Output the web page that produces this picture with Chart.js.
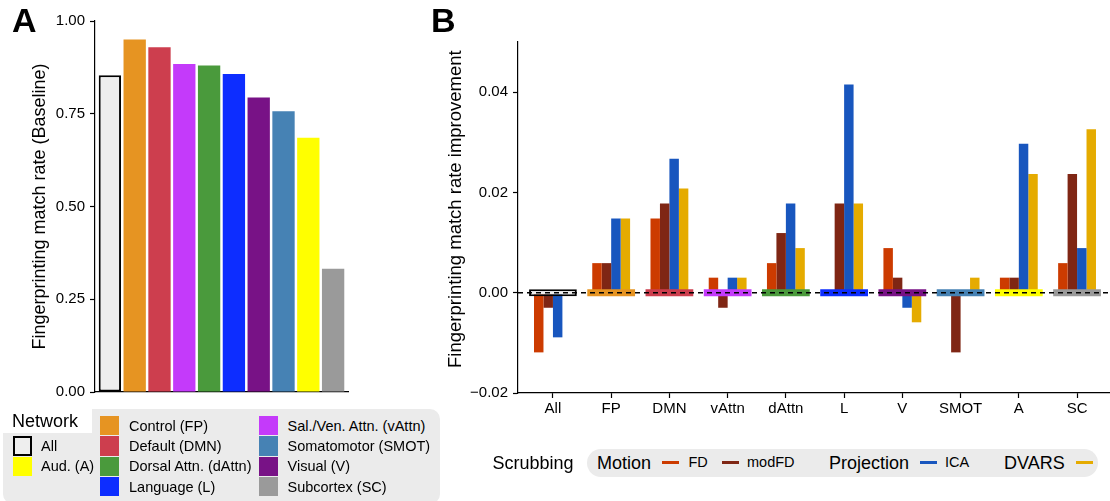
<!DOCTYPE html>
<html><head><meta charset="utf-8">
<script src="https://cdn.jsdelivr.net/npm/chart.js@4.4.1/dist/chart.umd.min.js"></script>
<style>
html,body{margin:0;padding:0;width:1110px;height:501px;overflow:hidden;background:#fff;font-family:"Liberation Sans",Arial,sans-serif;color:#000;}
.abs{position:absolute;white-space:nowrap;line-height:1;}
#wrapA{position:absolute;left:0;top:0;width:360px;height:406px;}
#wrapB{position:absolute;left:440px;top:0;width:672px;height:425px;}
.letter{position:absolute;font-weight:bold;font-size:34px;line-height:1;}
</style></head><body>
<div id="wrapA"><canvas id="cA" width="360" height="406"></canvas></div>
<div id="wrapB"><canvas id="cB" width="672" height="425"></canvas></div>
<div class="letter" style="left:12px;top:3px;">A</div>
<div class="letter" style="left:431px;top:3px;">B</div>
<div id="titleB" class="abs" style="left:0;top:0;font-size:18.5px;transform-origin:0 0;">Fingerprinting match rate improvement</div>
<div id="legA"></div>
<div id="legB"></div>
<script>
// ---------- data ----------
const networks = ['All','FP','DMN','vAttn','dAttn','L','V','SMOT','A','SC'];
const networkNames = ['All','Control (FP)','Default (DMN)','Sal./Ven. Attn. (vAttn)','Dorsal Attn. (dAttn)','Language (L)','Visual (V)','Somatomotor (SMOT)','Aud. (A)','Subcortex (SC)'];
const networkColors = ['#EEEEEE','#E69422','#CD3E4E','#C43AFA','#4A9A3C','#0D2DFF','#781286','#4682B4','#FFFF00','#9A9A9A'];
const baseline = [0.854, 0.950, 0.929, 0.884, 0.880, 0.857, 0.794, 0.757, 0.685, 0.332];
const yTicksA = [0, 0.25, 0.5, 0.75, 1.0];
const yTickLabelsA = ['0.00','0.25','0.50','0.75','1.00'];

const seriesNames = ['FD','modFD','ICA','DVARS'];
const seriesColors = ['#CC3B00','#7F2614','#1856BE','#E5AB00'];
const fd    = [-0.0119, 0.0059, 0.0148, 0.0030, 0.0059, 0,      0.0089, 0,       0.0030, 0.0059];
const modfd = [-0.0030, 0.0059, 0.0178, -0.0030, 0.0119, 0.0178, 0.0030, -0.0119, 0.0030, 0.0237];
const ica   = [-0.0089, 0.0148, 0.0267, 0.0030, 0.0178, 0.0415, -0.0030, 0,      0.0297, 0.0089];
const dvars = [0,       0.0148, 0.0208, 0.0030, 0.0089, 0.0178, -0.0059, 0.0030, 0.0237, 0.0326];
const yTicksB = [-0.02, 0, 0.02, 0.04];
const yTickLabelsB = ['\u22120.02','0.00','0.02','0.04'];
const bandHalf = 0.0007;

// ---------- common ----------
const FAM = '"Liberation Sans", Arial, sans-serif';
Chart.defaults.font.family = FAM;
Chart.defaults.color = '#000';
const idx = networks.map((_, i) => i);
const axisBorder = {display: true, color: '#000', width: 1.2};

// ---------- chart A ----------
new Chart(document.getElementById('cA'), {
  type: 'bar',
  data: {
    labels: idx,
    datasets: [{
      data: baseline,
      backgroundColor: networkColors,
      borderColor: networks.map((n, i) => i === 0 ? '#000' : 'rgba(0,0,0,0)'),
      borderWidth: networks.map((n, i) => i === 0 ? 2 : 0),
      borderSkipped: false,
      categoryPercentage: 0.9,
      barPercentage: 1
    }]
  },
  options: {
    responsive: false, animation: false, devicePixelRatio: 1,
    layout: {padding: {left: 0, top: 21, right: 12, bottom: 8}},
    plugins: {legend: {display: false}, tooltip: {enabled: false}},
    scales: {
      x: {
        type: 'linear', min: -0.6, max: 9.6, offset: false,
        grid: {display: false, offset: false}, ticks: {display: false},
        border: axisBorder,
        afterBuildTicks: s => { s.ticks = idx.map(v => ({value: v})); },
        afterFit: s => { s.height = 0; }
      },
      y: {
        min: 0, max: 1,
        afterBuildTicks: s => { s.ticks = yTicksA.map(v => ({value: v})); },
        ticks: {callback: (v, i) => yTickLabelsA[i], font: {size: 15}, color: '#000', padding: 5},
        grid: {drawOnChartArea: false, tickLength: 5, color: '#000', tickWidth: 1.2},
        border: axisBorder,
        title: {display: true, text: 'Fingerprinting match rate (Baseline)', font: {size: 18}, color: '#000', padding: {top: 29, bottom: 0}},
        afterFit: s => { s.width = 95; }
      }
    }
  }
});

// ---------- chart B ----------
const zeroLine = {
  id: 'zeroLine',
  afterDatasetsDraw(chart) {
    const {ctx, chartArea, scales: {y}} = chart;
    const py = y.getPixelForValue(0);
    ctx.save();
    ctx.setLineDash([5, 4]);
    ctx.lineWidth = 1.6;
    ctx.strokeStyle = '#000';
    ctx.beginPath();
    ctx.moveTo(chartArea.left, py);
    ctx.lineTo(chartArea.right, py);
    ctx.stroke();
    ctx.restore();
  }
};
const seriesData = [fd, modfd, ica, dvars];
const dsB = seriesData.map((d, k) => ({
  label: seriesNames[k], data: d, backgroundColor: seriesColors[k], borderWidth: 0,
  categoryPercentage: 0.65, barPercentage: 1, order: 2
}));
dsB.push({
  label: 'network', data: networks.map(() => [-bandHalf, bandHalf]),
  backgroundColor: networkColors,
  borderColor: networks.map((n, i) => i === 0 ? '#000' : 'rgba(0,0,0,0)'),
  borderWidth: networks.map((n, i) => i === 0 ? 2 : 0),
  borderSkipped: false, grouped: false, categoryPercentage: 0.82, barPercentage: 1, order: 1
});
new Chart(document.getElementById('cB'), {
  type: 'bar',
  data: {labels: idx, datasets: dsB},
  plugins: [zeroLine],
  options: {
    responsive: false, animation: false, devicePixelRatio: 1,
    layout: {padding: {left: 0, top: 42, right: 0, bottom: 0}},
    plugins: {legend: {display: false}, tooltip: {enabled: false}},
    scales: {
      x: {
        type: 'linear', min: -0.6, max: 9.6, offset: false,
        afterBuildTicks: s => { s.ticks = idx.map(v => ({value: v})); },
        ticks: {callback: (v, i) => networks[i], font: {size: 15}, color: '#000', padding: 2, autoSkip: false, maxRotation: 0},
        grid: {drawOnChartArea: false, offset: false, tickLength: 5, color: '#000', tickWidth: 1.2},
        border: axisBorder,
        afterFit: s => { s.height = 32; }
      },
      y: {
        min: -0.02, max: 0.05,
        afterBuildTicks: s => { s.ticks = yTicksB.map(v => ({value: v})); },
        ticks: {callback: (v, i) => yTickLabelsB[i], font: {size: 15}, color: '#000', padding: 5},
        grid: {drawOnChartArea: false, tickLength: 5, color: '#000', tickWidth: 1.2},
        border: axisBorder,
        afterFit: s => { s.width = 78; }
      }
    }
  }
});

// y title of panel B (HTML, rotated)
(function () {
  const t = document.getElementById('titleB');
  const w = t.offsetWidth, h = t.offsetHeight;
  const cx = 455.5, cy = 208.5;
  t.style.left = (cx - h / 2) + 'px';
  t.style.top = (cy + w / 2) + 'px';
  t.style.transform = 'rotate(-90deg)';
})();

// ---------- legend A (HTML) ----------
(function () {
  const L = document.getElementById('legA');
  let h = '';
  h += '<div class="abs" style="left:3px;top:409px;width:437px;height:95px;background:#EBEBEB;border-radius:10px;"></div>';
  h += '<div class="abs" style="left:0;top:400px;width:92px;height:33px;background:#fff;"></div>';
  h += '<div class="abs" style="left:12px;top:412px;font-size:18px;">Network</div>';
  const rowTop = [416, 436.3, 456.7, 477];
  const cols = [
    {key: 13, text: 41, items: [[1, 0], [2, 8]]},
    {key: 100, text: 129, items: [[0, 1], [1, 2], [2, 4], [3, 5]]},
    {key: 259, text: 287.5, items: [[0, 3], [1, 7], [2, 6], [3, 9]]}
  ];
  cols.forEach(c => c.items.forEach(([r, n]) => {
    const border = n === 0 ? 'border:2.3px solid #000;box-sizing:border-box;' : '';
    h += `<div class="abs" style="left:${c.key}px;top:${rowTop[r]}px;width:19.3px;height:19.3px;background:${networkColors[n]};${border}"></div>`;
    h += `<div class="abs" style="left:${c.text}px;top:${rowTop[r] + 2.6}px;font-size:14.5px;">${networkNames[n]}</div>`;
  }));
  L.innerHTML = h;
})();

// ---------- legend B (HTML) ----------
(function () {
  const L = document.getElementById('legB');
  let h = '';
  h += '<div class="abs" style="left:492.5px;top:453.5px;font-size:18px;">Scrubbing</div>';
  h += '<div class="abs" style="left:586.5px;top:449px;width:511.5px;height:28px;background:#EBEBEB;border-radius:14px;"></div>';
  const groups = [
    {text: 'Motion', left: 597, keys: [[0, 662, 688.5], [1, 722, 747]]},
    {text: 'Projection', left: 829, keys: [[2, 920, 945]]},
    {text: 'DVARS', left: 1004, keys: [[3, 1076, null]]}
  ];
  groups.forEach(g => {
    h += `<div class="abs" style="left:${g.left}px;top:453.5px;font-size:18px;">${g.text}</div>`;
    g.keys.forEach(([k, kx, tx]) => {
      h += `<div class="abs" style="left:${kx}px;top:460.6px;width:17px;height:3.6px;background:${seriesColors[k]};"></div>`;
      if (tx !== null) h += `<div class="abs" style="left:${tx}px;top:455.3px;font-size:14.5px;">${seriesNames[k]}</div>`;
    });
  });
  L.innerHTML = h;
})();
</script>
</body></html>
